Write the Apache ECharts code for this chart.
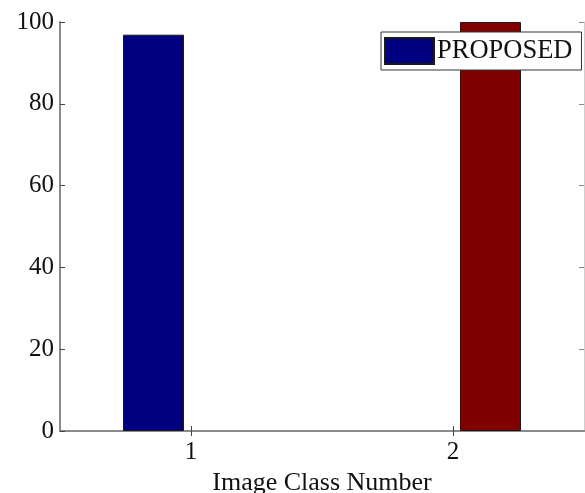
<!DOCTYPE html>
<html>
<head>
<meta charset="utf-8">
<script src="https://cdn.jsdelivr.net/npm/echarts@6/dist/echarts.min.js"></script>
<style>
html,body{margin:0;padding:0;background:#fff;}
#chart{width:585px;height:493px;}
</style>
</head>
<body>
<div id="chart"></div>
<script>
var categories = ['1', '2'];
var proposedValues = [96.9, null];
var otherValues = [null, 100];
var yTicks = [0, 20, 40, 60, 80, 100];
var xAxisTitle = 'Image Class Number';
var legendLabel = 'PROPOSED';

var FONT = '"Liberation Serif", "Times New Roman", serif';
var AXIS_COLOR = '#8a8a8a';

var chart = echarts.init(document.getElementById('chart'));
chart.setOption({
  animation: false,
  backgroundColor: '#ffffff',
  grid: { left: 60, right: 1, top: 22, bottom: 62, containLabel: false, outerBoundsMode: 'none' },
  legend: {
    data: [legendLabel],
    left: 381,
    top: 32,
    icon: 'rect',
    itemWidth: 49,
    itemHeight: 26,
    itemGap: 4,
    padding: [5, 9, 5, 3],
    borderColor: '#333',
    borderWidth: 1,
    backgroundColor: '#ffffff',
    textStyle: { fontFamily: FONT, fontSize: 26.5, color: '#111', padding: [0, 0, 0, -2] }
  },
  xAxis: [{
    type: 'category',
    data: categories,
    position: 'bottom',
    name: xAxisTitle,
    nameLocation: 'middle',
    nameGap: 37,
    nameTextStyle: { fontFamily: FONT, fontSize: 26, color: '#111' },
    axisLine: { show: true, lineStyle: { color: AXIS_COLOR, width: 2 } },
    axisTick: { show: true, inside: true, alignWithLabel: true, length: 5, lineStyle: { color: '#444' } },
    axisLabel: { fontFamily: FONT, fontSize: 25, color: '#111', margin: 9 },
    splitLine: { show: false }
  }, {
    type: 'category',
    data: categories,
    position: 'top',
    axisLine: { show: true, lineStyle: { color: AXIS_COLOR, width: 2 } },
    axisTick: { show: true, inside: true, alignWithLabel: true, length: 5, lineStyle: { color: '#444' } },
    axisLabel: { show: false },
    splitLine: { show: false }
  }],
  yAxis: [{
    type: 'value',
    min: 0,
    max: 100,
    interval: 20,
    position: 'left',
    axisLine: { show: true, lineStyle: { color: AXIS_COLOR, width: 2 } },
    axisTick: { show: true, inside: true, length: 5, lineStyle: { color: '#444' } },
    axisLabel: {
      fontFamily: FONT, fontSize: 25, color: '#111', margin: 6,
      formatter: function (v) { return yTicks.indexOf(v) >= 0 ? String(v) : ''; }
    },
    splitLine: { show: false }
  }, {
    type: 'value',
    min: 0,
    max: 100,
    interval: 20,
    position: 'right',
    axisLine: { show: true, lineStyle: { color: '#cfcfcf', width: 1 } },
    axisTick: { show: true, inside: true, length: 5, lineStyle: { color: '#888' } },
    axisLabel: { show: false },
    splitLine: { show: false }
  }],
  series: [{
    name: legendLabel,
    type: 'bar',
    xAxisIndex: 0,
    yAxisIndex: 0,
    data: proposedValues,
    barWidth: 61,
    barGap: '23%',
    itemStyle: { color: '#000080', borderColor: '#1a1a1a', borderWidth: 1 }
  }, {
    name: 'OTHER',
    type: 'bar',
    xAxisIndex: 0,
    yAxisIndex: 0,
    data: otherValues,
    barWidth: 61,
    barGap: '23%',
    itemStyle: { color: '#800000', borderColor: '#1a1a1a', borderWidth: 1 }
  }]
});
</script>
</body>
</html>
